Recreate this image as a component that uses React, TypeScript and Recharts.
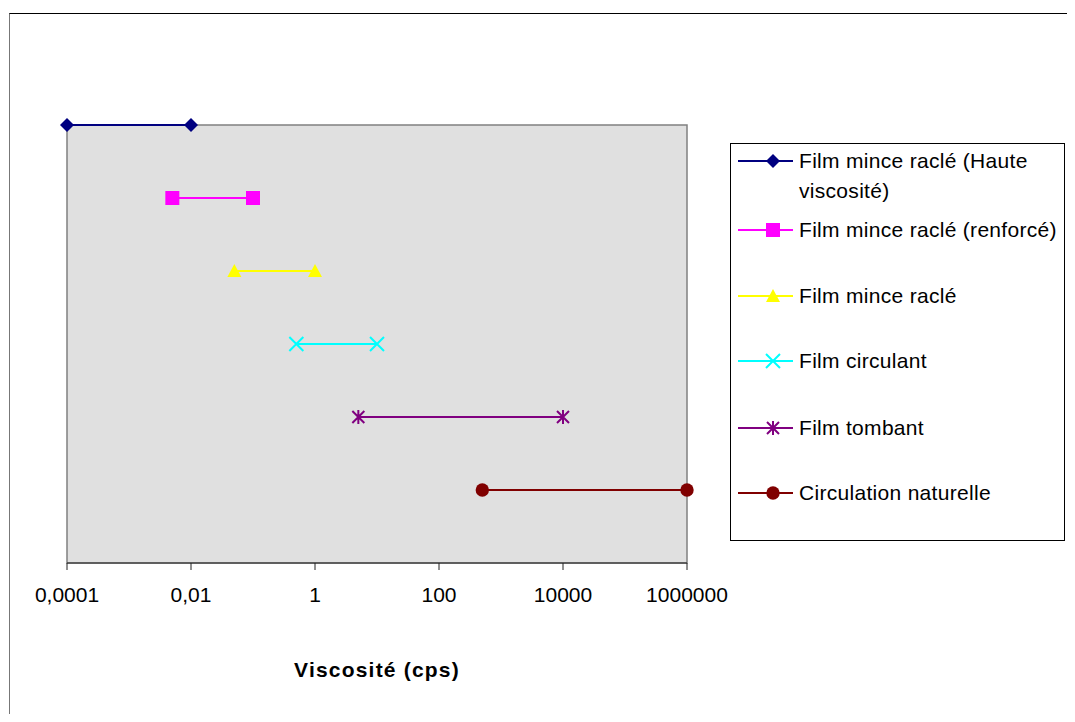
import { LineChart, Line, XAxis, YAxis, CartesianGrid, ReferenceArea } from 'recharts';

// viscosity ranges (cps) per evaporator type, top to bottom
const seriesNames = [
  'Film mince raclé (Haute viscosité)',
  'Film mince raclé (renforcé)',
  'Film mince raclé',
  'Film circulant',
  'Film tombant',
  'Circulation naturelle',
];
const rangeMin = [0.0001, 0.005, 0.05, 0.5, 5, 500];
const rangeMax = [0.01, 0.1, 1, 10, 10000, 1000000];
const rowLevel = [6, 5, 4, 3, 2, 1];
const xTicks = [0.0001, 0.01, 1, 100, 10000, 1000000];

const colors = ['#000080', '#ff00ff', '#ffff00', '#00ffff', '#800080', '#800000'];
const shapes = ['diamond', 'square', 'triangle', 'x', 'star', 'circle'];

const FONT = '"Liberation Sans", Arial, sans-serif';

function Marker({ cx, cy, shape, color }: { cx: number; cy: number; shape: string; color: string }) {
  const s = 7;
  switch (shape) {
    case 'diamond':
      return <polygon points={`${cx},${cy - s} ${cx + s},${cy} ${cx},${cy + s} ${cx - s},${cy}`} fill={color} />;
    case 'square':
      return <rect x={cx - s} y={cy - s} width={2 * s} height={2 * s} fill={color} />;
    case 'triangle':
      return <polygon points={`${cx},${cy - s} ${cx + s},${cy + s - 1} ${cx - s},${cy + s - 1}`} fill={color} />;
    case 'x':
      return (
        <path d={`M${cx - s},${cy - s}L${cx + s},${cy + s}M${cx - s},${cy + s}L${cx + s},${cy - s}`} stroke={color} strokeWidth={2} />
      );
    case 'star':
      return (
        <path
          d={`M${cx - s + 1},${cy - s + 1}L${cx + s - 1},${cy + s - 1}M${cx - s + 1},${cy + s - 1}L${cx + s - 1},${cy - s + 1}M${cx},${cy - s}L${cx},${cy + s}`}
          stroke={color}
          strokeWidth={2}
        />
      );
    default:
      return <circle cx={cx} cy={cy} r={6.7} fill={color} />;
  }
}

const series = seriesNames.map((name, i) => ({
  name,
  color: colors[i],
  shape: shapes[i],
  data: [
    { x: rangeMin[i], y: rowLevel[i] },
    { x: rangeMax[i], y: rowLevel[i] },
  ],
}));

// legend row centres, relative to the box
const legendRows = [17, 86, 152, 217, 284, 349];

function ChartLegend() {
  return (
    <div
      style={{
        position: 'absolute',
        left: 722,
        top: 135,
        width: 333,
        height: 396,
        border: '1px solid #000',
        background: '#fff',
        fontFamily: FONT,
        fontSize: 21,
        color: '#000',
      }}
    >
      {series.map((s, i) => (
        <div key={s.name} style={{ position: 'absolute', left: 0, top: legendRows[i] - 15, width: '100%' }}>
          <svg width={70} height={30} style={{ position: 'absolute', left: 0, top: 0 }}>
            <line x1={7} x2={62} y1={15} y2={15} stroke={s.color} strokeWidth={2} />
            <Marker cx={42} cy={15} shape={s.shape} color={s.color} />
          </svg>
          <div style={{ position: 'absolute', left: 68, top: 0, width: 264, lineHeight: '30px', letterSpacing: 0.3 }}>
            {s.name}
          </div>
        </div>
      ))}
    </div>
  );
}

export default function App() {
  return (
    <div style={{ position: 'relative', width: 1059, height: 706, overflow: 'hidden', background: '#fff' }}>
      <div
        style={{
          position: 'absolute',
          left: 1,
          top: 5,
          width: 1100,
          height: 800,
          borderTop: '1px solid #000',
          borderLeft: '1px solid #777',
        }}
      />
      <div style={{ position: 'absolute', left: 0, top: 0 }}>
        <LineChart width={1059} height={706} margin={{ top: 117, right: 380, bottom: 91, left: 59 }}>
          <CartesianGrid fill="#e0e0e0" horizontal={false} vertical={false} />
          <ReferenceArea x1={0.0001} x2={1000000} y1={0} y2={6} fill="none" stroke="#808080" strokeWidth={1.5} />
          <XAxis
            type="number"
            dataKey="x"
            scale="log"
            domain={[0.0001, 1000000]}
            ticks={xTicks}
            interval={0}
            height={60}
            tickSize={7}
            tickMargin={17}
            stroke="#222"
            tick={{ fill: '#000', fontSize: 21, fontFamily: FONT }}
            tickFormatter={(v: number) => String(v).replace('.', ',')}
          />
          <YAxis type="number" dataKey="y" domain={[0, 6]} hide />
          {series.map((s) => (
            <Line
              key={s.name}
              data={s.data}
              dataKey="y"
              name={s.name}
              type="linear"
              stroke={s.color}
              strokeWidth={2}
              isAnimationActive={false}
              dot={(p: any) => (
                <Marker key={`${s.name}-${p.index}`} cx={p.cx} cy={p.cy} shape={s.shape} color={s.color} />
              )}
              activeDot={false}
            />
          ))}
        </LineChart>
      </div>
      <ChartLegend />
      <div
        style={{
          position: 'absolute',
          left: 369,
          top: 650,
          transform: 'translateX(-50%)',
          fontFamily: FONT,
          fontSize: 21,
          fontWeight: 'bold',
          letterSpacing: 1.2,
          whiteSpace: 'nowrap',
          color: '#000',
        }}
      >
        Viscosité (cps)
      </div>
    </div>
  );
}
